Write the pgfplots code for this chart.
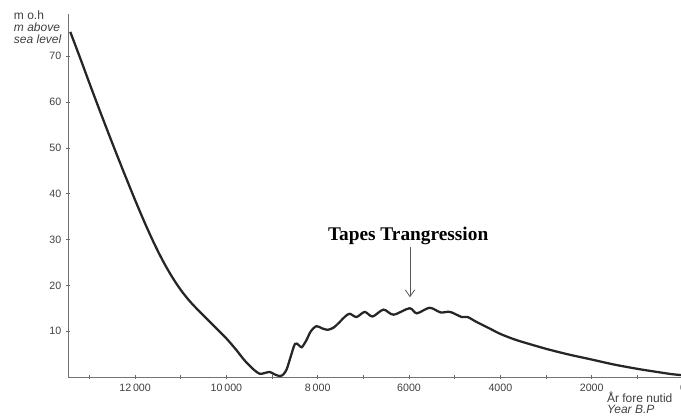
\documentclass[border=0pt]{standalone}
\usepackage{fontspec}
\setmainfont{Liberation Sans}
\newfontfamily\tnr{Liberation Serif}
\usepackage{pgfplots}
\pgfplotsset{compat=1.18}
\usetikzlibrary{arrows.meta}
\begin{document}
\begin{tikzpicture}
\useasboundingbox (-51pt,-31.5pt) rectangle (459.75pt,282.75pt);
\begin{axis}[
    at={(0pt,0pt)}, anchor=south west,
    scale only axis,
    width=461.25pt, height=272.25pt,
    x dir=reverse,
    xmin=0, xmax=13470,
    ymin=0, ymax=79.2,
    axis x line=bottom, axis y line=left,
    axis line style={-, black!55, line width=0.6pt},
    scaled x ticks=false,
    xtick={0,2000,4000,6000,8000,10000,12000},
    xticklabels={0,2000,4000,6000,8\,000,10\,000,12\,000},
    minor xtick={1000,3000,5000,7000,9000,11000,13000},
    ytick={10,20,30,40,50,60,70},
    tick align=center,
    major tick length=3pt, minor tick length=2.5pt,
    tick style={black!60, line width=0.5pt},
    ticklabel style={font=\footnotesize, text=black!75},
    /pgf/number format/assume math mode=true,
    clip=false,
]

% sea level curve (m above sea level vs. years BP)
\addplot[smooth, line width=1.7pt, color=black!85] coordinates {
    (13420,75.3) (13200,69.5) (13000,64.1) (12800,58.8) (12600,53.6)
    (12400,48.5) (12200,43.5) (12000,38.6) (11800,33.9) (11600,29.5)
    (11400,25.5) (11200,22.0) (11000,19.0) (10800,16.5) (10600,14.4)
    (10400,12.4) (10200,10.4) (10000,8.4) (9800,6.1) (9600,3.6)
    (9400,1.6) (9270,0.7) (9150,0.9) (9050,1.1) (8950,0.6)
    (8830,0.2) (8750,0.6) (8680,1.7) (8600,4.2) (8500,7.2)
    (8420,7.0) (8350,6.5) (8250,8.0) (8150,10.0) (8030,11.1)
    (7900,10.6) (7780,10.3) (7650,10.8) (7520,12.0) (7400,13.2)
    (7300,13.8) (7150,13.1) (6970,14.2) (6800,13.2) (6560,14.7)
    (6340,13.6) (5990,15.0) (5830,13.9) (5550,15.1) (5310,14.1)
    (5100,14.2) (4850,13.1) (4720,13.1) (4520,12.0) (4220,10.5)
    (4000,9.4) (3720,8.3) (3500,7.6) (2980,6.1) (2500,4.9)
    (2040,3.9) (1500,2.7) (950,1.7) (500,1.0) (230,0.6) (0,0.4)
};

\node[anchor=north east, align=left, font=\fontsize{9}{9}\selectfont, text=black!75, inner sep=0pt]
    at (axis description cs:-0.01,1.01) {m o.h\\\textit{m above}\\\textit{sea level}};
\node[anchor=north west, align=left, font=\fontsize{9}{8.5}\selectfont, text=black!75, inner sep=0pt]
    at (axis description cs:0.876,-0.04) {År fore nutid\\\textit{Year B.P}};

\node[font=\tnr\bfseries\fontsize{14.5}{16}\selectfont] at (axis cs:6020,30.8) {Tapes Trangression};
\draw[-{Straight Barb[length=5pt,width=7pt]}, black!65, line width=0.6pt]
    (axis cs:5980,28.3) -- (axis cs:5980,17.4);
\end{axis}
\end{tikzpicture}
\end{document}
